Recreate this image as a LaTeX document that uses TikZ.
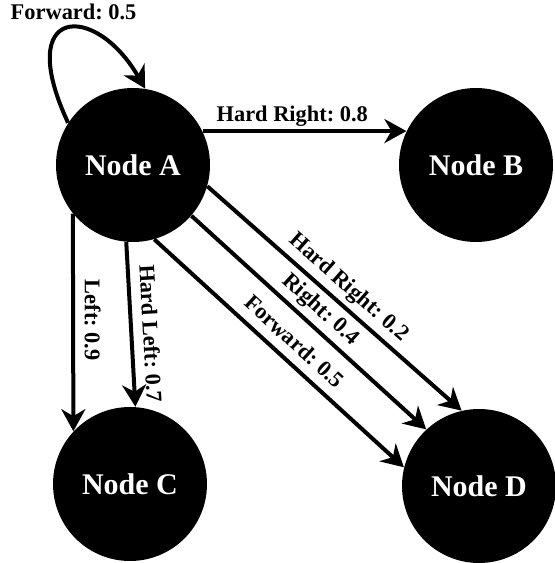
\documentclass[tikz,border=0pt]{standalone}
\usepackage{fontspec}
\setmainfont{Liberation Serif}
\usetikzlibrary{arrows.meta}
\frenchspacing

\begin{document}
\begin{tikzpicture}[x=0.5pt,y=0.5pt,
  state/.style={circle,fill=black,inner sep=0pt,minimum size=77pt,text=white,font=\fontsize{15}{18}\selectfont\bfseries},
  trans/.style={line width=2pt,-{Stealth[length=11pt,width=12pt,inset=3.5pt]}},
  prob/.style={font=\fontsize{11.2}{13}\selectfont\bfseries,inner sep=2.5pt,text depth=2.4pt}]
\useasboundingbox (0,0) rectangle (555,563);
\node[state] (A) at (133,398) {Node A};
\node[state] (B) at (476,398) {Node B};
\node[state] (C) at (130,79) {Node C};
\node[state] (D) at (479,77) {Node D};
\draw[trans] (A.147) to[out=115,in=120,out distance=65pt,in distance=50pt] node[prob,pos=0.55,above,inner sep=1pt] {Forward: 0.5} (A.81);
\draw[trans] (A.26) -- node[prob,pos=0.44,above,inner sep=1.5pt] {Hard Right: 0.8} (B.154);
\draw[trans] (A.219) -- node[prob,pos=0.49,sloped,above] {Left: 0.9} (C.137);
\draw[trans] (A.265) -- node[prob,pos=0.56,sloped,above] {Hard Left: 0.7} (C.86);
\draw[trans] (A.-16) -- node[prob,pos=0.51,sloped,above] {Hard Right: 0.2} (D.103.5);
\draw[trans] (A.-41) -- node[prob,pos=0.5,sloped,above] {Right: 0.4} (D.133);
\draw[trans] (A.-74) -- node[prob,pos=0.51,sloped,above] {Forward: 0.5} (D.166);
\end{tikzpicture}
\end{document}
